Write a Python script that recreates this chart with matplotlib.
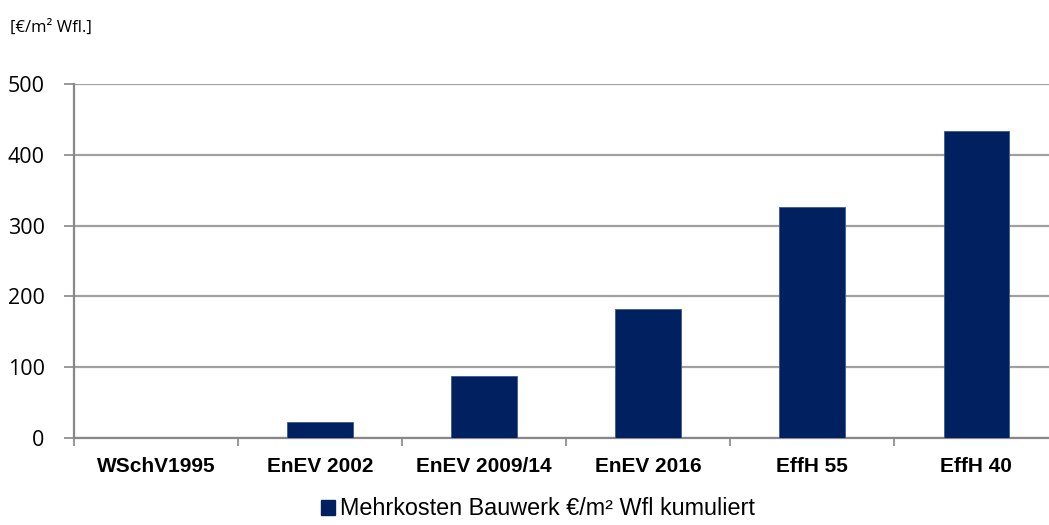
import matplotlib
matplotlib.use("Agg")
import matplotlib.pyplot as plt
from matplotlib.patches import Patch

categories = ["WSchV1995", "EnEV 2002", "EnEV 2009/14", "EnEV 2016", "EffH 55", "EffH 40"]
values = [0, 23, 88, 182, 326, 433]
yticks = [0, 100, 200, 300, 400, 500]
series_name = "Mehrkosten Bauwerk €/m² Wfl kumuliert"
unit_label = "[€/m² Wfl.]"

bar_color = "#002060"
grid_color = "#a0a0a0"

fig = plt.figure(figsize=(10.49, 5.25), dpi=100)
ax = fig.add_axes([0.0703, 0.1657, 0.9387, 0.6743])

x = list(range(len(categories)))
ax.bar(x, values, width=0.4, color=bar_color, edgecolor="#3a5a92", linewidth=0.6, zorder=3)

ax.set_xlim(-0.5, len(categories) - 0.5)
ax.set_ylim(0, 500)
ax.set_yticks(yticks)
ax.set_yticklabels([str(t) for t in yticks], fontfamily="Open Sans", fontsize=15.5)
ax.yaxis.grid(True, color=grid_color, linewidth=1.6, zorder=0)
ax.set_axisbelow(True)

ax.set_xticks(x)
ax.set_xticklabels(categories, fontfamily="Liberation Sans", fontweight="bold", fontsize=15)
ax.tick_params(axis="x", which="major", length=0, pad=14)
ax.set_xticks([i - 0.5 for i in range(len(categories) + 1)], minor=True)
ax.tick_params(axis="x", which="minor", length=6, width=1.2, color="#888888", direction="out")
ax.tick_params(axis="y", length=7, width=1.2, color="#888888", pad=14)

for s in ["top", "right"]:
    ax.spines[s].set_visible(False)
for s in ["left", "bottom"]:
    ax.spines[s].set_color("#888888")
    ax.spines[s].set_linewidth(1.6)

fig.text(0.0095, 0.948, unit_label, fontfamily="Open Sans", fontsize=12, va="center", ha="left")

handle = Patch(facecolor=bar_color, edgecolor=bar_color)
fig.legend([handle], [series_name], loc="center left", bbox_to_anchor=(0.306, 0.0305),
           frameon=False, prop={"family": "Liberation Sans", "size": 16.8},
           handlelength=0.6, handleheight=0.6, handletextpad=0.2, borderpad=0,
           borderaxespad=0)

fig.savefig("out.png", dpi=100)
